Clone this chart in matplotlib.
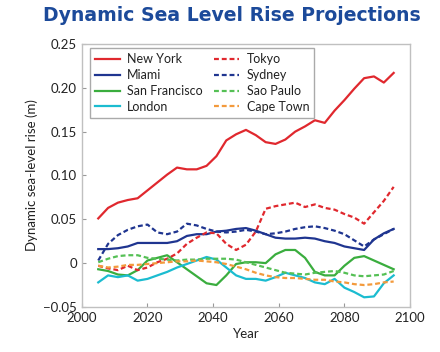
import numpy as np
import matplotlib
matplotlib.use('Agg')
import matplotlib.pyplot as plt
from matplotlib.ticker import FixedLocator, FixedFormatter

plt.rcParams['font.family'] = ['Lato', 'DejaVu Sans']

years = np.arange(2005, 2096, 3)

new_york = [0.051, 0.063, 0.069, 0.072, 0.074, 0.083, 0.092, 0.101, 0.109, 0.107,
            0.107, 0.111, 0.122, 0.140, 0.147, 0.152, 0.146, 0.138, 0.136, 0.141,
            0.150, 0.156, 0.163, 0.160, 0.174, 0.186, 0.199, 0.211, 0.213, 0.206, 0.217]
miami = [0.016, 0.016, 0.017, 0.019, 0.023, 0.023, 0.023, 0.023, 0.025, 0.031,
         0.033, 0.033, 0.036, 0.037, 0.039, 0.040, 0.037, 0.033, 0.029, 0.028,
         0.028, 0.029, 0.028, 0.025, 0.023, 0.019, 0.017, 0.015, 0.027, 0.034, 0.039]
san_francisco = [-0.007, -0.009, -0.013, -0.014, -0.008, 0.003, 0.006, 0.009, 0.001, -0.007,
                 -0.015, -0.023, -0.025, -0.014, -0.001, 0.001, 0.001, 0.000, 0.010, 0.015,
                 0.015, 0.006, -0.010, -0.014, -0.014, -0.003, 0.006, 0.008, 0.003, -0.002, -0.007]
london = [-0.022, -0.014, -0.016, -0.014, -0.020, -0.018, -0.014, -0.010, -0.005, -0.001,
          0.003, 0.007, 0.004, -0.005, -0.014, -0.018, -0.018, -0.020, -0.016, -0.011,
          -0.014, -0.017, -0.022, -0.024, -0.018, -0.028, -0.033, -0.039, -0.038, -0.023, -0.014]
tokyo = [-0.003, -0.006, -0.008, -0.003, -0.008, -0.005, 0.001, 0.005, 0.011, 0.022,
         0.029, 0.035, 0.034, 0.022, 0.015, 0.021, 0.036, 0.062, 0.065, 0.067,
         0.069, 0.064, 0.067, 0.063, 0.061, 0.056, 0.052, 0.045, 0.058, 0.071, 0.087]
sydney = [0.003, 0.022, 0.032, 0.038, 0.042, 0.044, 0.035, 0.033, 0.036, 0.045,
          0.043, 0.039, 0.036, 0.035, 0.036, 0.038, 0.036, 0.033, 0.034, 0.036,
          0.039, 0.041, 0.042, 0.040, 0.037, 0.033, 0.026, 0.019, 0.027, 0.033, 0.039]
sao_paulo = [0.001, 0.005, 0.008, 0.009, 0.009, 0.006, 0.005, 0.004, 0.003, 0.004,
             0.004, 0.005, 0.005, 0.005, 0.004, 0.001, -0.002, -0.005, -0.008, -0.011,
             -0.012, -0.013, -0.011, -0.010, -0.009, -0.011, -0.014, -0.015, -0.014, -0.013, -0.009]
cape_town = [-0.003, -0.005, -0.004, -0.002, -0.002, -0.001, 0.000, 0.001, 0.002, 0.002,
             0.003, 0.002, 0.001, -0.001, -0.004, -0.007, -0.011, -0.014, -0.016, -0.017,
             -0.017, -0.018, -0.019, -0.019, -0.021, -0.022, -0.024, -0.025, -0.024, -0.022, -0.021]

y_ticks = [-0.05, 0, 0.05, 0.10, 0.15, 0.20, 0.25]
y_labels = ['\u22120.05', '0', '0.05', '0.10', '0.15', '0.20', '0.25']
x_ticks = [2000, 2020, 2040, 2060, 2080, 2100]

red = '#e0282e'
navy = '#1f3590'
green = '#3aad3e'
cyan = '#1bbcd0'
lgreen = '#55c055'
orange = '#f39a3c'

fig = plt.figure(figsize=(4.4, 3.52), dpi=100)
ax = fig.add_axes([0.186, 0.128, 0.746, 0.747])

lw = 1.6
dash = (0, (2.2, 1.3))
ax.plot(years, new_york, color=red, lw=lw, label='New York')
ax.plot(years, miami, color=navy, lw=lw, label='Miami')
ax.plot(years, san_francisco, color=green, lw=lw, label='San Francisco')
ax.plot(years, london, color=cyan, lw=lw, label='London')
ax.plot(years, tokyo, color=red, lw=lw, ls=dash, label='Tokyo')
ax.plot(years, sydney, color=navy, lw=lw, ls=dash, label='Sydney')
ax.plot(years, sao_paulo, color=lgreen, lw=lw, ls=dash, label='Sao Paulo')
ax.plot(years, cape_town, color=orange, lw=lw, ls=dash, label='Cape Town')

ax.set_xlim(2000, 2100)
ax.set_ylim(-0.05, 0.25)
ax.yaxis.set_major_locator(FixedLocator(y_ticks))
ax.yaxis.set_major_formatter(FixedFormatter(y_labels))
ax.set_xticks(x_ticks)

for s in ax.spines.values():
    s.set_color('#c0c0c0')
    s.set_linewidth(1.0)
ax.tick_params(direction='in', length=3, color='#999999', labelsize=9.5,
               labelcolor='#222222', top=False, right=False)

ax.set_xlabel('Year', fontsize=9.5, color='#222222', labelpad=3)
ax.set_ylabel('Dynamic sea-level rise (m)', fontsize=9.5, color='#222222', labelpad=4)

leg = ax.legend(loc='upper left', bbox_to_anchor=(0.024, 0.983), ncol=2,
                fontsize=9, frameon=True, fancybox=False, framealpha=1,
                edgecolor='#aaaaaa', handlelength=2.0, handletextpad=0.6,
                columnspacing=0.9, labelspacing=0.3, borderaxespad=0,
                borderpad=0.4)
leg.get_frame().set_linewidth(1.0)
for t in leg.get_texts():
    t.set_color('#222222')

fig.text(0.527, 0.957, 'Dynamic Sea Level Rise Projections', ha='center', va='center',
         fontsize=13.6, fontweight='bold', color='#1c4a9a', family='DejaVu Sans')

fig.savefig('out.png', dpi=100)
